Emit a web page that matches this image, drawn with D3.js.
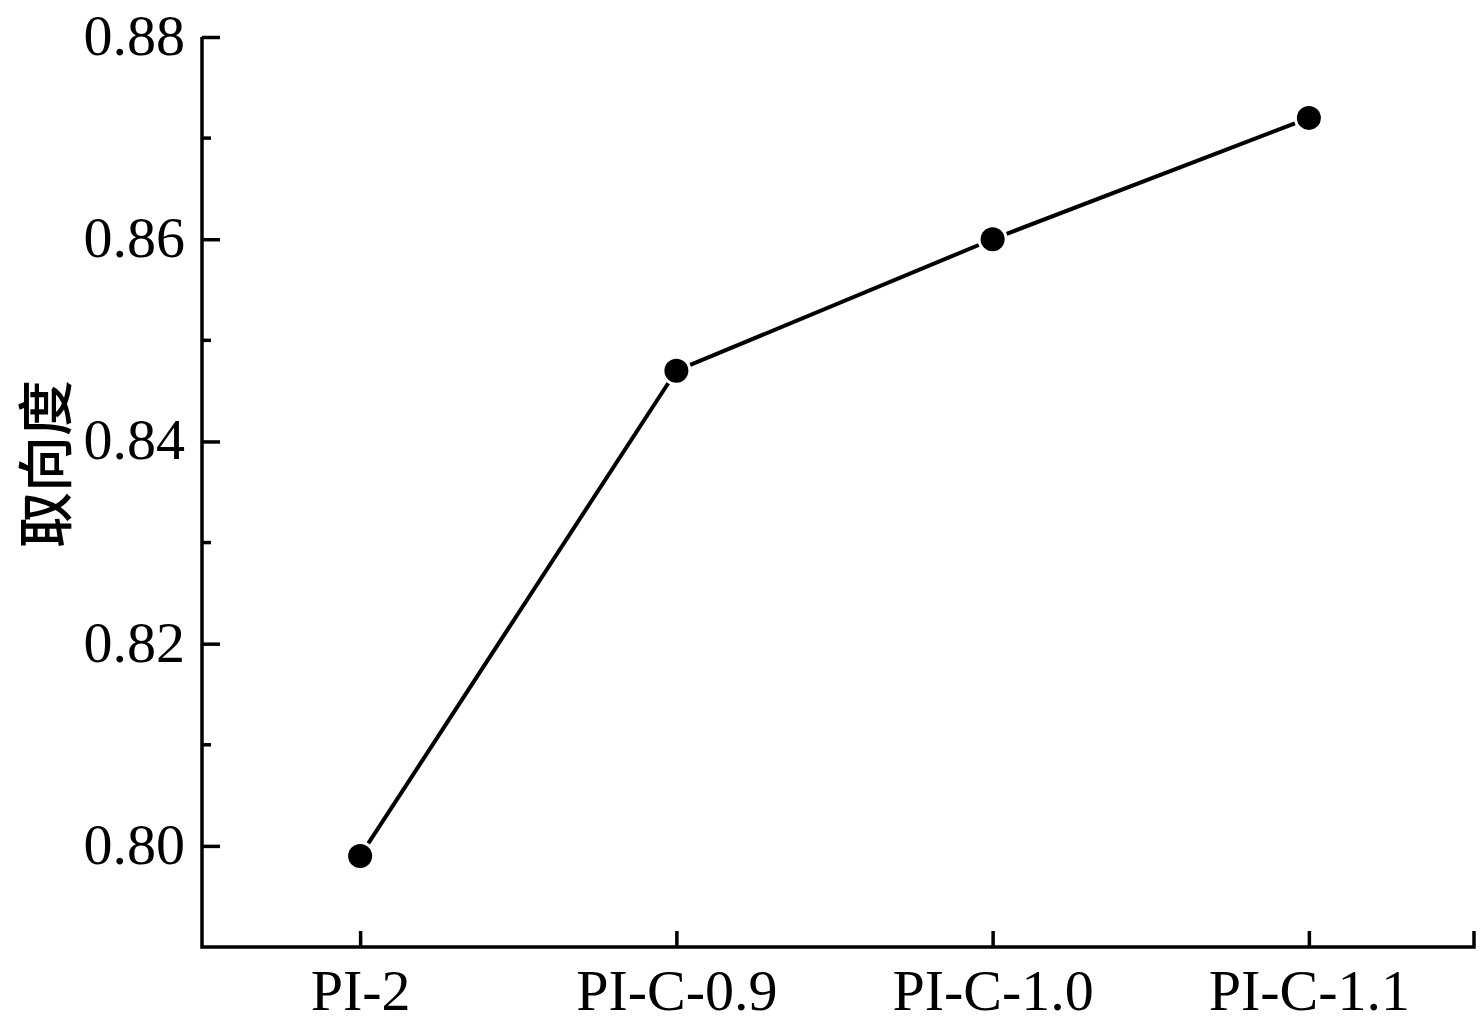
<!DOCTYPE html>
<html lang="zh">
<head>
<meta charset="UTF-8">
<script src="https://cdn.jsdelivr.net/npm/d3@7"></script>
<title>取向度</title>
<style>
    body { margin: 0; background: #fff; }
    svg { display: block; }
    .tick text { font-family: "Liberation Serif", "Times New Roman", serif; font-size: 58px; fill: #000; }
</style>
</head>
<body>
<script>
    // data
    const samples = ["PI-2", "PI-C-0.9", "PI-C-1.0", "PI-C-1.1"];
    const orientation = [0.799, 0.847, 0.860, 0.872];
    const yTicks = [0.80, 0.82, 0.84, 0.86, 0.88];
    const yMinorTicks = [0.81, 0.83, 0.85, 0.87];

    const W = 1483, H = 1025;
    const plot = { left: 202, right: 1474, top: 37, bottom: 947 };

    const svg = d3.select("body").append("svg")
        .attr("width", W)
        .attr("height", H);

    //scales
    const x = d3.scalePoint()
        .domain(samples)
        .range([plot.left, 1467])
        .padding(0.5);
    const y = d3.scaleLinear()
        .domain([0.79, 0.88])
        .range([plot.bottom, plot.top]);

    //y axis, ticks pointing inward
    const yAxis = svg.append("g")
        .attr("transform", `translate(${plot.left},0)`)
        .call(d3.axisLeft(y).tickValues(yTicks).tickFormat(d3.format(".2f")).tickSize(0).tickPadding(17));
    yAxis.select(".domain").remove();
    yAxis.selectAll(".tick text").attr("dy", "0.3em");
    yAxis.selectAll(".tick").append("line")
        .attr("x1", 0).attr("x2", 18)
        .attr("stroke", "#000").attr("stroke-width", 3.5);

    svg.append("g")
        .attr("transform", `translate(${plot.left},0)`)
        .selectAll("line")
        .data(yMinorTicks)
        .enter()
        .append("line")
        .attr("x1", 0).attr("x2", 9)
        .attr("y1", d => y(d)).attr("y2", d => y(d))
        .attr("stroke", "#000").attr("stroke-width", 3.5);

    //x axis
    const xAxis = svg.append("g")
        .attr("transform", `translate(0,${plot.bottom})`)
        .call(d3.axisBottom(x).tickSize(0).tickPadding(22));
    xAxis.select(".domain").remove();
    xAxis.selectAll(".tick").append("line")
        .attr("y1", 0).attr("y2", -16)
        .attr("stroke", "#000").attr("stroke-width", 3.5);

    //frame lines
    svg.append("path")
        .attr("d", `M${plot.left},${plot.top}V${plot.bottom}H${plot.right}V${plot.bottom - 16}`)
        .attr("fill", "none")
        .attr("stroke", "#000")
        .attr("stroke-width", 3.5);

    //y label
    svg.append("text")
        .attr("transform", `translate(66,464) rotate(-90)`)
        .attr("text-anchor", "middle")
        .style("font-family", "'Noto Sans CJK SC', sans-serif")
        .style("font-size", "56px")
        .style("font-weight", 500)
        .text("取向度");

    //line segments with a gap at each marker
    const pts = samples.map((s, i) => [x(s), y(orientation[i])]);
    const gap = 15;
    const segs = d3.pairs(pts).map(([a, b]) => {
        const dx = b[0] - a[0], dy = b[1] - a[1];
        const len = Math.hypot(dx, dy);
        return [a[0] + dx / len * gap, a[1] + dy / len * gap, b[0] - dx / len * gap, b[1] - dy / len * gap];
    });
    svg.append("g")
        .selectAll("line")
        .data(segs)
        .enter()
        .append("line")
        .attr("x1", d => d[0]).attr("y1", d => d[1])
        .attr("x2", d => d[2]).attr("y2", d => d[3])
        .attr("stroke", "#000")
        .attr("stroke-width", 4);

    svg.append("g")
        .selectAll("circle")
        .data(pts)
        .enter()
        .append("circle")
        .attr("cx", d => d[0])
        .attr("cy", d => d[1])
        .attr("r", 12)
        .attr("fill", "#000");
</script>
</body>
</html>
